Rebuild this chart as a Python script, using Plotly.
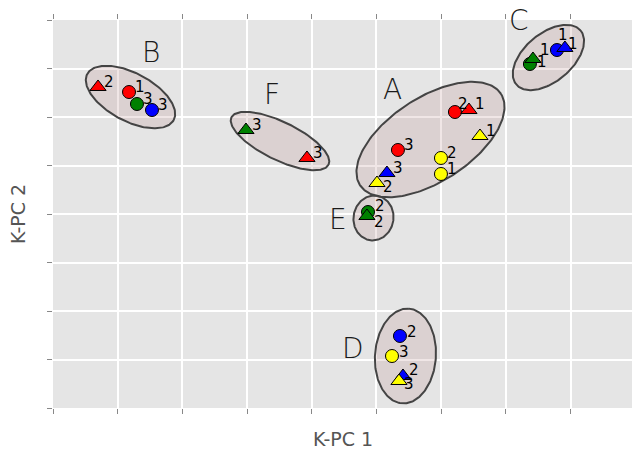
import numpy as np
import plotly.graph_objects as go

# ---- data ----
pt_x = [0.696, 1.175, 1.298, 1.530,           # B
        2.983, 3.926,                         # F
        6.213, 6.430, 6.600, 5.332, 5.997, 5.997, 5.162, 5.008,   # A
        7.372, 7.419, 7.790, 7.913,           # C
        4.869, 4.853,                         # E
        5.363, 5.240, 5.410, 5.348]           # D
pt_y = [6.619, 6.515, 6.268, 6.144,
        5.732, 5.155,
        6.103, 6.144, 5.608, 5.320, 5.155, 4.825, 4.845, 4.639,
        7.093, 7.196, 7.381, 7.423,
        4.041, 3.959,
        1.485, 1.072, 0.660, 0.557]
pt_color = ["red", "red", "green", "blue",
            "green", "red",
            "red", "red", "yellow", "red", "yellow", "yellow", "blue", "yellow",
            "green", "green", "blue", "blue",
            "green", "green",
            "blue", "yellow", "blue", "yellow"]
pt_shape = ["tri", "circ", "circ", "circ",
            "tri", "tri",
            "circ", "tri", "tri", "circ", "circ", "circ", "tri", "tri",
            "circ", "tri", "circ", "tri",
            "circ", "tri",
            "circ", "circ", "tri", "tri"]
pt_label = ["2", "1", "3", "3",
            "3", "3",
            "2", "1", "1", "3", "2", "1", "3", "2",
            "1", "1", "1", "1",
            "2", "2",
            "2", "3", "2", "3"]

group_names = ["B", "F", "A", "C", "E", "D"]
group_label_x = [1.515, 3.385, 5.255, 7.202, 4.405, 4.637]
group_label_y = [7.320, 6.454, 6.577, 8.000, 3.897, 1.237]
ell_cx = [1.198, 3.509, 5.835, 7.658, 4.954, 5.448]
ell_cy = [6.412, 5.505, 5.536, 7.227, 3.918, 1.072]
ell_a = [0.757, 0.835, 1.298, 0.649, 0.348, 0.734]   # semi-axes (x units)
ell_b = [0.371, 0.294, 0.649, 0.371, 0.309, 0.471]
ell_angle = [-28, -26, 33, 40, 80, 86]

# ---- layout constants ----
W, H = 632, 449
ML, MR, MT, MB = 53, 0, 20, 41
XR = [0, 8.95]
YR = [0, 8]
pw, ph = W - ML - MR, H - MT - MB
sx = pw / (XR[1] - XR[0])
sy = ph / (YR[1] - YR[0])

# label nudges in pixels (dx right, dy up) — default (11, 5)
nudge = {7: (11, 6), 6: (8, 8), 13: (11, -4), 18: (12, 6), 19: (12, -6),
         14: (12, 2), 15: (12, 9), 16: (6, 15), 17: (8, 4),
         20: (12, 4), 21: (12, 4), 22: (11, 6), 23: (10, -3)}

fig = go.Figure()

t = np.linspace(0, 2 * np.pi, 200)
for cx, cy, a, b, ang in zip(ell_cx, ell_cy, ell_a, ell_b, ell_angle):
    th = np.deg2rad(ang)
    dx = a * np.cos(th) * np.cos(t) - b * np.sin(th) * np.sin(t)
    dy = (a * np.sin(th) * np.cos(t) + b * np.cos(th) * np.sin(t)) * sx / sy
    fig.add_trace(go.Scatter(x=cx + dx, y=cy + dy, mode="lines", fill="toself",
                             fillcolor="rgba(188,143,143,0.22)",
                             line=dict(color="#444444", width=2),
                             hoverinfo="skip", showlegend=False))

for i in range(len(pt_x)):
    sym = "circle" if pt_shape[i] == "circ" else "triangle-up"
    size = 13 if pt_shape[i] == "circ" else 14
    fig.add_trace(go.Scatter(x=[pt_x[i]], y=[pt_y[i]], mode="markers",
                             marker=dict(symbol=sym, size=size, color=pt_color[i],
                                         line=dict(color="black", width=1)),
                             showlegend=False))
    ddx, ddy = nudge.get(i, (11, 5))
    fig.add_annotation(x=pt_x[i], y=pt_y[i], text=pt_label[i], showarrow=False,
                       xshift=ddx, yshift=ddy, xanchor="center", yanchor="middle",
                       font=dict(family="DejaVu Sans", size=15, color="black"))

for name, gx, gy in zip(group_names, group_label_x, group_label_y):
    fig.add_annotation(x=gx, y=gy, text=name, showarrow=False,
                       xanchor="center", yanchor="middle",
                       font=dict(family="DejaVu Sans", size=28, color="#1a1a1a", weight=200))

fig.add_annotation(xref="paper", yref="paper", x=0.5, y=-(439 - (H - MB)) / ph,
                   text="K-PC 1", showarrow=False, xanchor="center", yanchor="middle",
                   font=dict(family="DejaVu Sans", size=19, color="#555555"))
fig.add_annotation(xref="paper", yref="paper", x=(18 - ML) / pw, y=0.5,
                   text="K-PC 2", showarrow=False, textangle=-90,
                   xanchor="center", yanchor="middle",
                   font=dict(family="DejaVu Sans", size=19, color="#555555"))

axis_common = dict(showticklabels=False, ticks="outside", ticklen=5, tickwidth=1,
                   tickcolor="#888888", zeroline=False, showline=False,
                   gridcolor="white", gridwidth=1.5, dtick=1, tick0=0)
fig.update_layout(
    width=W, height=H,
    margin=dict(l=ML, r=MR, t=MT, b=MB, autoexpand=False),
    paper_bgcolor="white", plot_bgcolor="#e5e5e5",
    xaxis=dict(range=XR, automargin=False, **axis_common),
    yaxis=dict(range=YR, automargin=False, **axis_common),
    xaxis2=dict(range=XR, overlaying="x", side="top", showgrid=False, automargin=False,
                showticklabels=False, ticks="outside", ticklen=5, tickwidth=1,
                tickcolor="#888888", zeroline=False, dtick=1, tick0=0),
)
fig.add_trace(go.Scatter(x=[None], y=[None], xaxis="x2", showlegend=False))

fig.write_html("out.html", config={"displayModeBar": False},
               post_script="document.body.style.margin='0';document.body.style.overflow='hidden';")
